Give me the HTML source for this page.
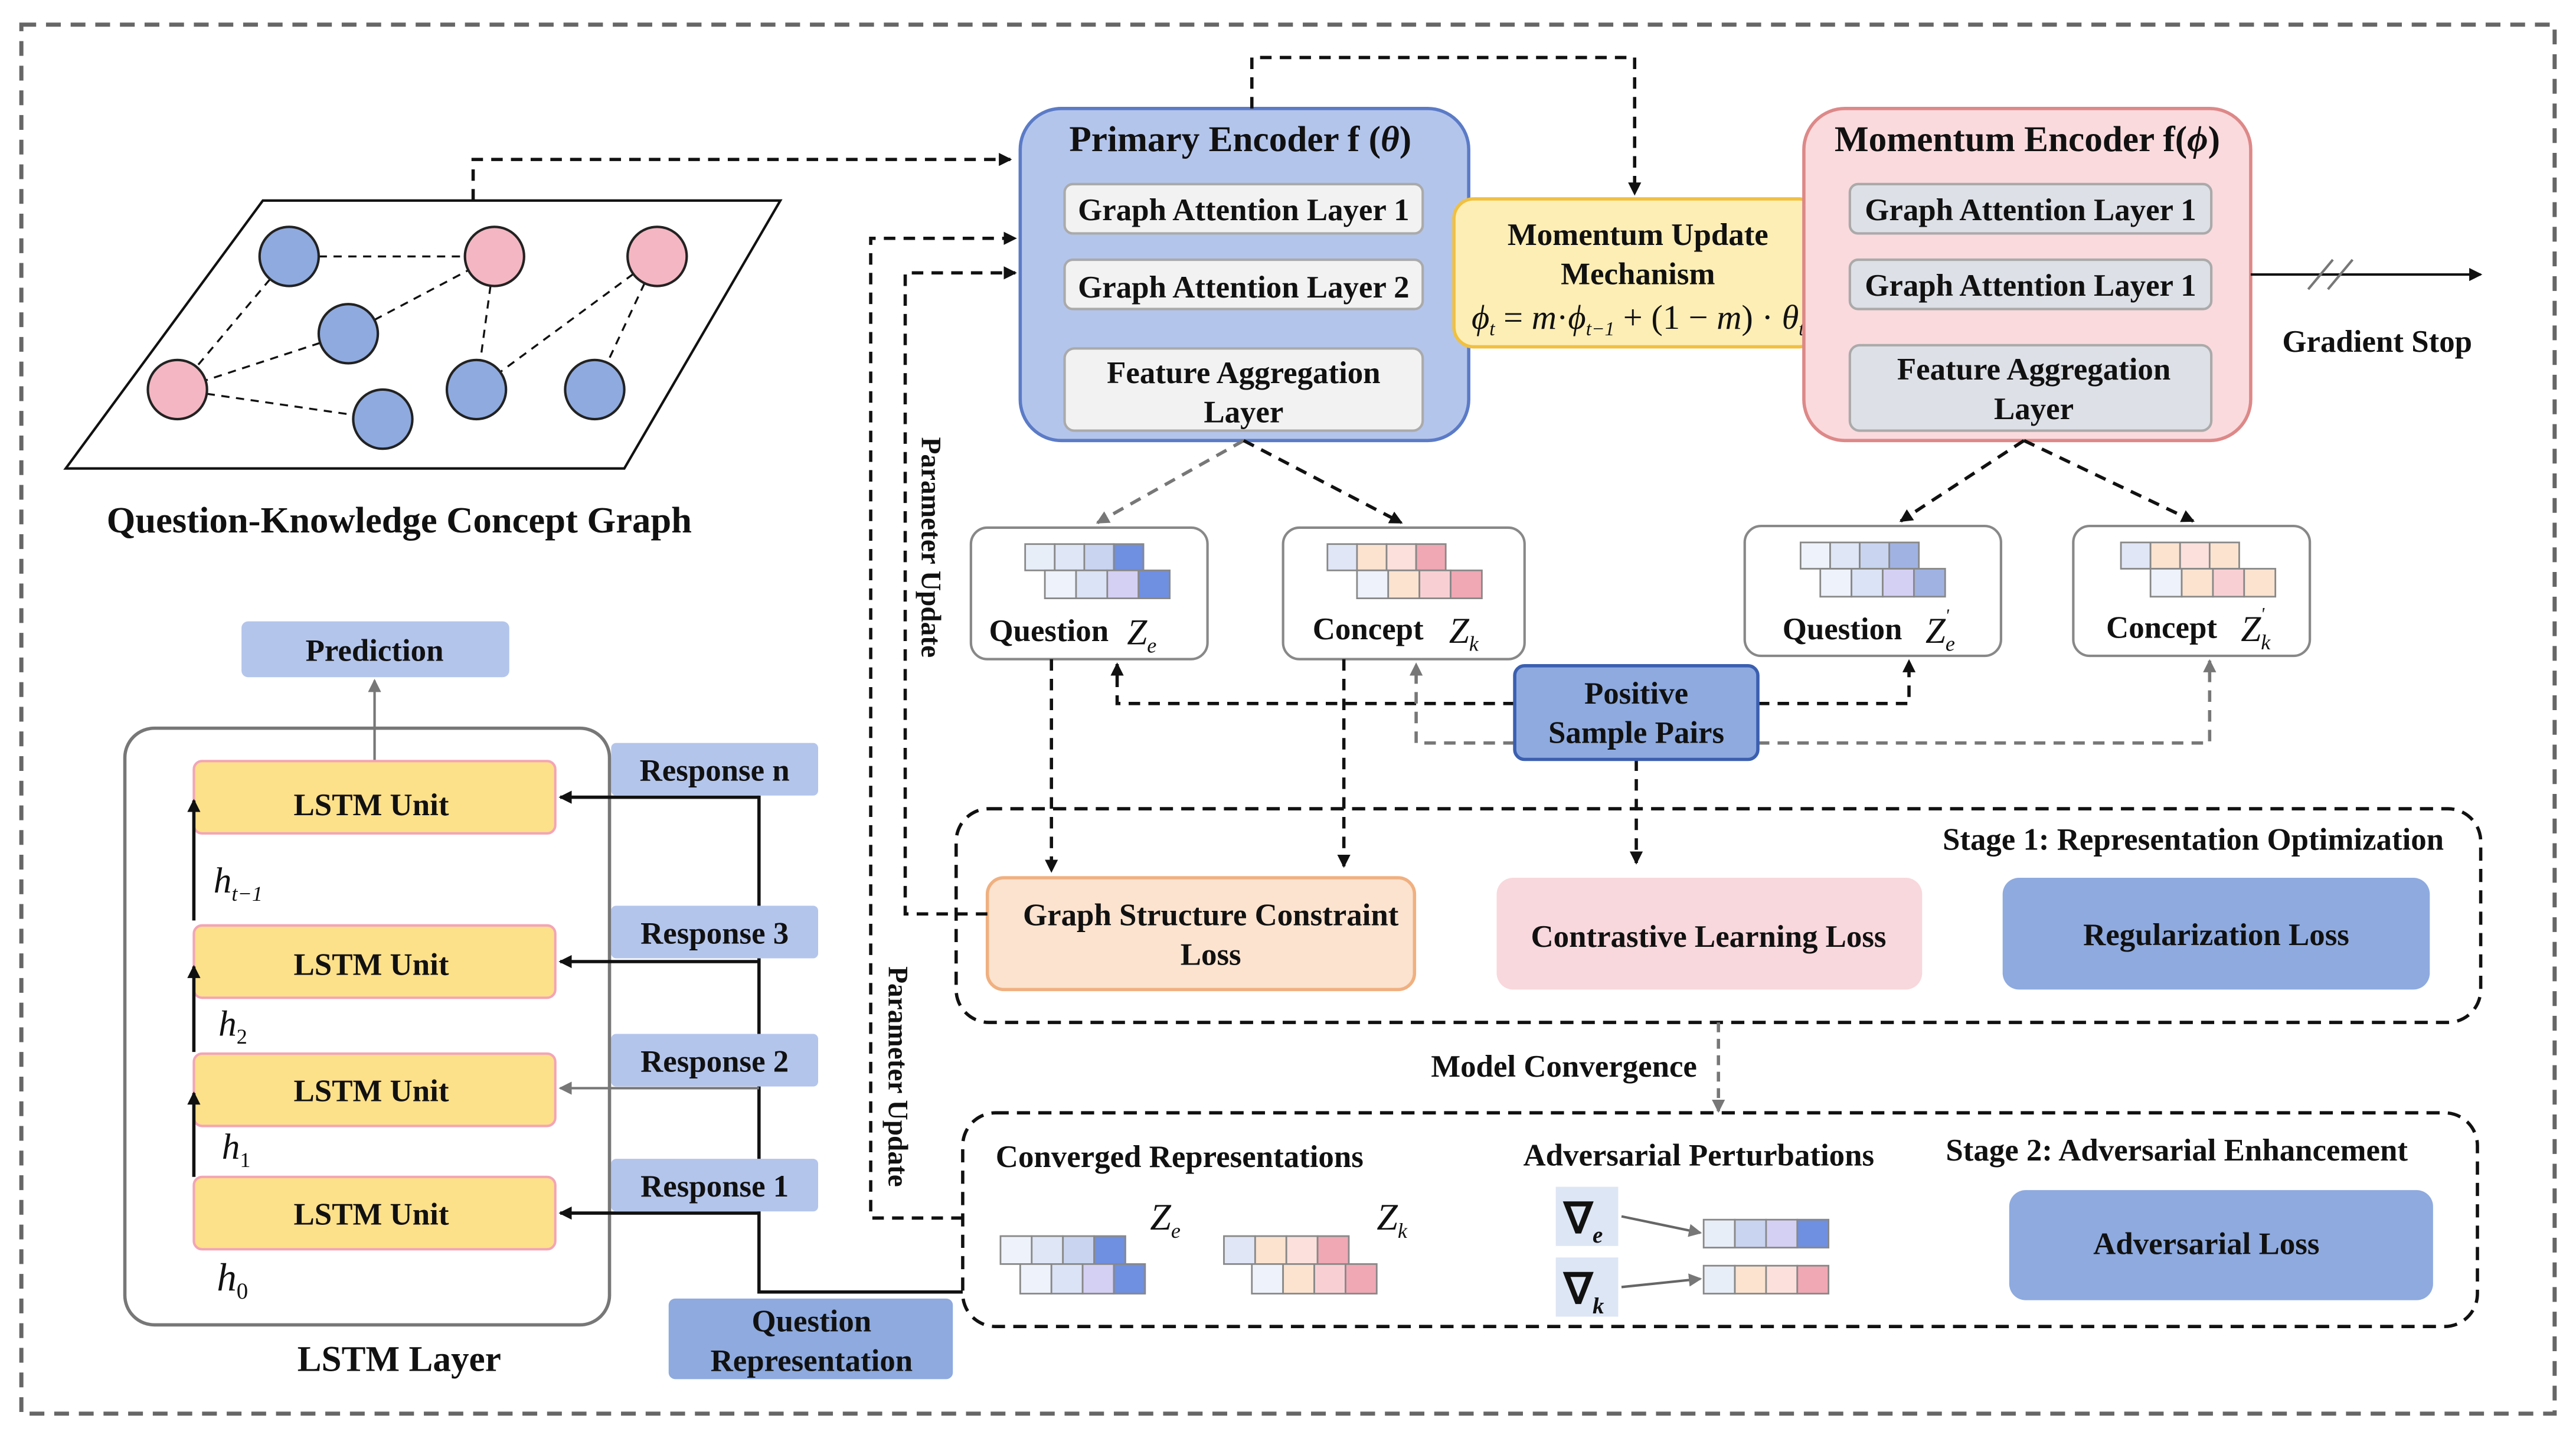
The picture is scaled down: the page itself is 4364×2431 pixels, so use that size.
<!DOCTYPE html>
<html><head><meta charset="utf-8"><style>
html,body{margin:0;padding:0;background:#fff}
svg{display:block}
text{font-family:"Liberation Serif",serif;font-weight:bold;fill:#111}
.i{font-weight:normal;font-style:italic}
</style></head><body>
<svg width="4364" height="2431" viewBox="0 0 1568 873" preserveAspectRatio="none" xmlns="http://www.w3.org/2000/svg">
<defs>
<marker id="a" markerWidth="8" markerHeight="8" refX="7" refY="4" orient="auto" markerUnits="userSpaceOnUse"><path d="M0,0 L8,4 L0,8 z" fill="#111"/></marker>
<marker id="g" markerWidth="8" markerHeight="8" refX="7" refY="4" orient="auto" markerUnits="userSpaceOnUse"><path d="M0,0 L8,4 L0,8 z" fill="#777"/></marker>
</defs>
<rect x="13" y="15" width="1542" height="845" fill="none" stroke="#666" stroke-width="2.5" stroke-dasharray="9,6"/>

<!-- graph -->
<polygon points="160,122 475,122 380,285 40,285" fill="#fff" stroke="#111" stroke-width="1.5"/>
<g stroke="#111" stroke-dasharray="5,4" stroke-width="1.2">
<line x1="176" y1="156" x2="301" y2="156"/><line x1="176" y1="156" x2="108" y2="237"/>
<line x1="212" y1="203" x2="108" y2="237"/><line x1="212" y1="203" x2="301" y2="156"/>
<line x1="108" y1="237" x2="233" y2="255"/><line x1="301" y1="156" x2="290" y2="237"/>
<line x1="400" y1="156" x2="290" y2="237"/><line x1="400" y1="156" x2="362" y2="237"/>
</g>
<g stroke="#222" stroke-width="1.5">
<circle cx="176" cy="156" r="18" fill="#8eaadf"/><circle cx="212" cy="203" r="18" fill="#8eaadf"/>
<circle cx="233" cy="255" r="18" fill="#8eaadf"/><circle cx="290" cy="237" r="18" fill="#8eaadf"/>
<circle cx="362" cy="237" r="18" fill="#8eaadf"/><circle cx="301" cy="156" r="18" fill="#f4b6c2"/>
<circle cx="400" cy="156" r="18" fill="#f4b6c2"/><circle cx="108" cy="237" r="18" fill="#f4b6c2"/>
</g>
<text x="243" y="324" font-size="22.5" text-anchor="middle">Question-Knowledge Concept Graph</text>
<polyline points="288,122 288,97 615,97" fill="none" stroke="#111" stroke-width="2" stroke-dasharray="7,5" marker-end="url(#a)"/>

<!-- primary encoder -->
<rect x="621" y="66" width="273" height="202" rx="25" fill="#b4c5ec" stroke="#5b7bc7" stroke-width="2"/>
<text x="755" y="92" font-size="22" text-anchor="middle">Primary Encoder f (<tspan font-style="italic">θ</tspan>)</text>
<g fill="#f2f2f2" stroke="#aaa" stroke-width="1.5">
<rect x="648" y="112" width="218" height="30" rx="5"/><rect x="648" y="158" width="218" height="30" rx="5"/><rect x="648" y="212" width="218" height="50" rx="6"/>
</g>
<text x="757" y="134" font-size="19" text-anchor="middle">Graph Attention Layer 1</text>
<text x="757" y="181" font-size="19" text-anchor="middle">Graph Attention Layer 2</text>
<text x="757" y="233" font-size="19" text-anchor="middle">Feature Aggregation</text>
<text x="757" y="257" font-size="19" text-anchor="middle">Layer</text>

<!-- momentum update -->
<polyline points="762,66 762,35 995,35 995,118" fill="none" stroke="#111" stroke-width="2" stroke-dasharray="7,5" marker-end="url(#a)"/>
<rect x="885" y="121" width="222" height="90" rx="12" fill="#fdeeb5" stroke="#f0c040" stroke-width="2"/>
<text x="997" y="149" font-size="19" text-anchor="middle">Momentum Update</text>
<text x="997" y="173" font-size="19" text-anchor="middle">Mechanism</text>
<text x="997" y="200" font-size="21" text-anchor="middle" class="i">ϕ<tspan font-size="12" dy="4">t</tspan><tspan dy="-4" font-style="normal"> = </tspan>m<tspan font-style="normal">·</tspan>ϕ<tspan font-size="12" dy="4">t−1</tspan><tspan dy="-4" font-style="normal"> + (1 − </tspan>m<tspan font-style="normal">) · </tspan>θ<tspan font-size="12" dy="4">t</tspan></text>

<!-- momentum encoder -->
<rect x="1098" y="66" width="272" height="202" rx="25" fill="#fadadd" stroke="#d88" stroke-width="2"/>
<text x="1234" y="92" font-size="22" text-anchor="middle">Momentum Encoder f(<tspan font-style="italic">ϕ</tspan>)</text>
<g fill="#dde0e6" stroke="#aaa" stroke-width="1.5">
<rect x="1126" y="112" width="220" height="30" rx="5"/><rect x="1126" y="158" width="220" height="30" rx="5"/><rect x="1126" y="210" width="220" height="52" rx="6"/>
</g>
<text x="1236" y="134" font-size="19" text-anchor="middle">Graph Attention Layer 1</text>
<text x="1236" y="180" font-size="19" text-anchor="middle">Graph Attention Layer 1</text>
<text x="1238" y="231" font-size="19" text-anchor="middle">Feature Aggregation</text>
<text x="1238" y="255" font-size="19" text-anchor="middle">Layer</text>

<line x1="1370" y1="167" x2="1510" y2="167" stroke="#111" stroke-width="1.5" marker-end="url(#a)"/>
<line x1="1405" y1="176" x2="1420" y2="158" stroke="#777" stroke-width="1.5"/><line x1="1417" y1="176" x2="1432" y2="158" stroke="#777" stroke-width="1.5"/>
<text x="1447" y="214" font-size="19" text-anchor="middle">Gradient Stop</text>

<!-- encoder outputs -->
<g fill="none" stroke-width="2" stroke-dasharray="7,5">
<line x1="757" y1="268" x2="668" y2="318" stroke="#777" marker-end="url(#g)"/>
<line x1="757" y1="268" x2="853" y2="318" stroke="#111" marker-end="url(#a)"/>
<line x1="1232" y1="268" x2="1157" y2="317" stroke="#111" marker-end="url(#a)"/>
<line x1="1232" y1="268" x2="1335" y2="317" stroke="#111" marker-end="url(#a)"/>
</g>
<g fill="#fff" stroke="#888" stroke-width="1.5">
<rect x="591" y="321" width="144" height="80" rx="10"/><rect x="781" y="321" width="147" height="80" rx="10"/>
<rect x="1062" y="320" width="156" height="79" rx="10"/><rect x="1262" y="320" width="144" height="79" rx="10"/>
</g>
<g stroke="#888" stroke-width="1">
<rect x="624" y="331" width="18" height="16" fill="#e8eef8"/><rect x="642" y="331" width="18" height="16" fill="#dfe6f6"/><rect x="660" y="331" width="18" height="16" fill="#c8d4f0"/><rect x="678" y="331" width="18" height="16" fill="#6f8fe0"/>
<rect x="636" y="347" width="19" height="17" fill="#eef2fa"/><rect x="655" y="347" width="19" height="17" fill="#dbe3f6"/><rect x="674" y="347" width="19" height="17" fill="#d4d0f4"/><rect x="693" y="347" width="19" height="17" fill="#6f8fe0"/>
<rect x="808" y="331" width="18" height="16" fill="#e0e6f6"/><rect x="826" y="331" width="18" height="16" fill="#fbe3d0"/><rect x="844" y="331" width="18" height="16" fill="#fbe0dc"/><rect x="862" y="331" width="18" height="16" fill="#f0a8b4"/>
<rect x="826" y="347" width="19" height="17" fill="#eef2fa"/><rect x="845" y="347" width="19" height="17" fill="#fbe3d0"/><rect x="864" y="347" width="19" height="17" fill="#f8d0d4"/><rect x="883" y="347" width="19" height="17" fill="#f0a8b4"/>
<rect x="1096" y="330" width="18" height="16" fill="#eef2fa"/><rect x="1114" y="330" width="18" height="16" fill="#dfe6f6"/><rect x="1132" y="330" width="18" height="16" fill="#c8d4f0"/><rect x="1150" y="330" width="18" height="16" fill="#9fb2e2"/>
<rect x="1108" y="346" width="19" height="17" fill="#eef2fa"/><rect x="1127" y="346" width="19" height="17" fill="#dbe3f6"/><rect x="1146" y="346" width="19" height="17" fill="#d4d0f4"/><rect x="1165" y="346" width="19" height="17" fill="#9fb2e2"/>
<rect x="1291" y="330" width="18" height="16" fill="#e0e6f6"/><rect x="1309" y="330" width="18" height="16" fill="#fbe3d0"/><rect x="1327" y="330" width="18" height="16" fill="#fbe0dc"/><rect x="1345" y="330" width="18" height="16" fill="#fbe3d0"/>
<rect x="1309" y="346" width="19" height="17" fill="#eef2fa"/><rect x="1328" y="346" width="19" height="17" fill="#fbe3d0"/><rect x="1347" y="346" width="19" height="17" fill="#f8d0d4"/><rect x="1366" y="346" width="19" height="17" fill="#fbe3d0"/>
</g>
<text x="602" y="390" font-size="19">Question</text><text x="686" y="392" font-size="22" class="i">Z<tspan font-size="13" dy="5">e</tspan></text>
<text x="799" y="389" font-size="19">Concept</text><text x="882" y="391" font-size="22" class="i">Z<tspan font-size="13" dy="5">k</tspan></text>
<text x="1085" y="389" font-size="19">Question</text><text x="1172" y="391" font-size="22" class="i">Z<tspan font-size="13" dy="5">e</tspan><tspan font-size="11" dx="-6" dy="-18">'</tspan></text>
<text x="1282" y="388" font-size="19">Concept</text><text x="1364" y="390" font-size="22" class="i">Z<tspan font-size="13" dy="5">k</tspan><tspan font-size="11" dx="-6" dy="-18">'</tspan></text>

<!-- positive sample pairs -->
<g fill="none" stroke-width="2" stroke-dasharray="7,5">
<polyline points="922,428 680,428 680,404" stroke="#111" marker-end="url(#a)"/>
<polyline points="922,452 862,452 862,404" stroke="#777" marker-end="url(#g)"/>
<polyline points="1070,428 1162,428 1162,402" stroke="#111" marker-end="url(#a)"/>
<polyline points="1070,452 1345,452 1345,402" stroke="#777" marker-end="url(#g)"/>
<line x1="996" y1="462" x2="996" y2="525" stroke="#111" marker-end="url(#a)"/>
<line x1="640" y1="401" x2="640" y2="530" stroke="#111" marker-end="url(#a)"/>
<line x1="818" y1="401" x2="818" y2="527" stroke="#111" marker-end="url(#a)"/>
</g>
<rect x="922" y="405" width="148" height="57" rx="6" fill="#8eaadf" stroke="#3b5fb0" stroke-width="2"/>
<text x="996" y="428" font-size="19" text-anchor="middle">Positive</text>
<text x="996" y="452" font-size="19" text-anchor="middle">Sample Pairs</text>

<!-- stage 1 -->
<rect x="582" y="492" width="928" height="130" rx="20" fill="none" stroke="#111" stroke-width="2" stroke-dasharray="8,5"/>
<text x="1335" y="517" font-size="19" text-anchor="middle">Stage 1: Representation Optimization</text>
<rect x="601" y="534" width="260" height="68" rx="10" fill="#fbe3cf" stroke="#f0b080" stroke-width="2"/>
<text x="737" y="563" font-size="19" text-anchor="middle">Graph Structure Constraint</text>
<text x="737" y="587" font-size="19" text-anchor="middle">Loss</text>
<rect x="911" y="534" width="259" height="68" rx="10" fill="#f8d8dc"/>
<text x="1040" y="576" font-size="19" text-anchor="middle">Contrastive Learning Loss</text>
<rect x="1219" y="534" width="260" height="68" rx="10" fill="#8eaadf"/>
<text x="1349" y="575" font-size="19" text-anchor="middle">Regularization Loss</text>

<text x="952" y="655" font-size="19" text-anchor="middle">Model Convergence</text>
<line x1="1046" y1="622" x2="1046" y2="676" stroke="#777" stroke-width="2" stroke-dasharray="6,4" marker-end="url(#g)"/>

<!-- stage 2 -->
<rect x="586" y="677" width="922" height="130" rx="20" fill="none" stroke="#111" stroke-width="2" stroke-dasharray="8,5"/>
<text x="718" y="710" font-size="19" text-anchor="middle">Converged Representations</text>
<text x="1034" y="709" font-size="19" text-anchor="middle">Adversarial Perturbations</text>
<text x="1325" y="706" font-size="19" text-anchor="middle">Stage 2: Adversarial Enhancement</text>
<g stroke="#888" stroke-width="1">
<rect x="609" y="752" width="19" height="17" fill="#eef2fa"/><rect x="628" y="752" width="19" height="17" fill="#dfe6f6"/><rect x="647" y="752" width="19" height="17" fill="#c8d4f0"/><rect x="666" y="752" width="19" height="17" fill="#6f8fe0"/>
<rect x="621" y="769" width="19" height="18" fill="#eef2fa"/><rect x="640" y="769" width="19" height="18" fill="#dbe3f6"/><rect x="659" y="769" width="19" height="18" fill="#d4d0f4"/><rect x="678" y="769" width="19" height="18" fill="#6f8fe0"/>
<rect x="745" y="752" width="19" height="17" fill="#e0e6f6"/><rect x="764" y="752" width="19" height="17" fill="#fbe3d0"/><rect x="783" y="752" width="19" height="17" fill="#fbe0dc"/><rect x="802" y="752" width="19" height="17" fill="#f0a8b4"/>
<rect x="762" y="769" width="19" height="18" fill="#eef2fa"/><rect x="781" y="769" width="19" height="18" fill="#fbe3d0"/><rect x="800" y="769" width="19" height="18" fill="#f8d0d4"/><rect x="819" y="769" width="19" height="18" fill="#f0a8b4"/>
<rect x="1037" y="742" width="19" height="17" fill="#e8eef8"/><rect x="1056" y="742" width="19" height="17" fill="#c8d4f0"/><rect x="1075" y="742" width="19" height="17" fill="#d4d0f4"/><rect x="1094" y="742" width="19" height="17" fill="#6f8fe0"/>
<rect x="1037" y="770" width="19" height="17" fill="#e8eef8"/><rect x="1056" y="770" width="19" height="17" fill="#fbe3d0"/><rect x="1075" y="770" width="19" height="17" fill="#fbe0dc"/><rect x="1094" y="770" width="19" height="17" fill="#f0a8b4"/>
</g>
<text x="700" y="748" font-size="23" class="i">Z<tspan font-size="13" dy="5">e</tspan></text>
<text x="838" y="748" font-size="23" class="i">Z<tspan font-size="13" dy="5">k</tspan></text>
<rect x="947" y="722" width="38" height="36" fill="#dde6f5"/><rect x="947" y="765" width="38" height="36" fill="#dde6f5"/>
<text x="952" y="750" font-size="26" font-weight="normal">∇<tspan font-size="14" font-style="italic" dy="6">e</tspan></text>
<text x="952" y="793" font-size="26" font-weight="normal">∇<tspan font-size="14" font-style="italic" dy="6">k</tspan></text>
<line x1="987" y1="740" x2="1035" y2="750" stroke="#666" stroke-width="1.5" marker-end="url(#g)"/>
<line x1="987" y1="783" x2="1035" y2="778" stroke="#666" stroke-width="1.5" marker-end="url(#g)"/>
<rect x="1223" y="724" width="258" height="67" rx="10" fill="#8eaadf"/>
<text x="1343" y="763" font-size="19" text-anchor="middle">Adversarial Loss</text>

<!-- parameter update -->
<g fill="none" stroke="#111" stroke-width="2" stroke-dasharray="7,5">
<polyline points="601,556 551,556 551,166 618,166" marker-end="url(#a)"/>
<polyline points="586,741 530,741 530,145 618,145" marker-end="url(#a)"/>
</g>
<text transform="translate(561,333) rotate(90)" font-size="17" text-anchor="middle">Parameter Update</text>
<text transform="translate(541,655) rotate(90)" font-size="17" text-anchor="middle">Parameter Update</text>

<!-- LSTM -->
<rect x="76" y="443" width="295" height="363" rx="18" fill="none" stroke="#777" stroke-width="2"/>
<rect x="147" y="378" width="163" height="34" rx="4" fill="#b4c5ec"/>
<text x="228" y="402" font-size="19" text-anchor="middle">Prediction</text>
<line x1="228" y1="463" x2="228" y2="414" stroke="#777" stroke-width="1.5" marker-end="url(#g)"/>
<g fill="#fde08a" stroke="#f3a5b5" stroke-width="1.5">
<rect x="118" y="463" width="220" height="44" rx="5"/><rect x="118" y="563" width="220" height="44" rx="5"/>
<rect x="118" y="641" width="220" height="44" rx="5"/><rect x="118" y="716" width="220" height="44" rx="5"/>
</g>
<text x="226" y="496" font-size="19" text-anchor="middle">LSTM Unit</text>
<text x="226" y="593" font-size="19" text-anchor="middle">LSTM Unit</text>
<text x="226" y="670" font-size="19" text-anchor="middle">LSTM Unit</text>
<text x="226" y="745" font-size="19" text-anchor="middle">LSTM Unit</text>
<g fill="none" stroke="#111" stroke-width="2">
<polyline points="462,484 462,786 586,786"/>
<line x1="462" y1="485" x2="341" y2="485" marker-end="url(#a)"/>
<line x1="462" y1="585" x2="341" y2="585" marker-end="url(#a)"/>
<line x1="462" y1="738" x2="341" y2="738" marker-end="url(#a)"/>
<line x1="118" y1="560" x2="118" y2="487" marker-end="url(#a)"/>
<line x1="118" y1="640" x2="118" y2="588" marker-end="url(#a)"/>
<line x1="118" y1="716" x2="118" y2="665" marker-end="url(#a)"/>
</g>
<line x1="462" y1="662" x2="341" y2="662" stroke="#777" stroke-width="1.5" marker-end="url(#g)"/>
<g fill="#b4c5ec">
<rect x="372" y="452" width="126" height="32" rx="3"/><rect x="372" y="551" width="126" height="32" rx="3"/>
<rect x="372" y="629" width="126" height="32" rx="3"/><rect x="372" y="705" width="126" height="32" rx="3"/>
</g>
<text x="435" y="475" font-size="19" text-anchor="middle">Response n</text>
<text x="435" y="574" font-size="19" text-anchor="middle">Response 3</text>
<text x="435" y="652" font-size="19" text-anchor="middle">Response 2</text>
<text x="435" y="728" font-size="19" text-anchor="middle">Response 1</text>
<text x="130" y="543" font-size="22" class="i">h<tspan font-size="13" dy="5">t−1</tspan></text>
<text x="133" y="630" font-size="22" class="i">h<tspan font-size="13" dy="5" font-style="normal">2</tspan></text>
<text x="135" y="705" font-size="22" class="i">h<tspan font-size="13" dy="5" font-style="normal">1</tspan></text>
<text x="132" y="785" font-size="24" class="i">h<tspan font-size="14" dy="5" font-style="normal">0</tspan></text>
<rect x="407" y="790" width="173" height="49" rx="4" fill="#8eaadf"/>
<text x="494" y="810" font-size="19" text-anchor="middle">Question</text>
<text x="494" y="834" font-size="19" text-anchor="middle">Representation</text>
<text x="243" y="834" font-size="22" text-anchor="middle">LSTM Layer</text>
</svg>
</body></html>
